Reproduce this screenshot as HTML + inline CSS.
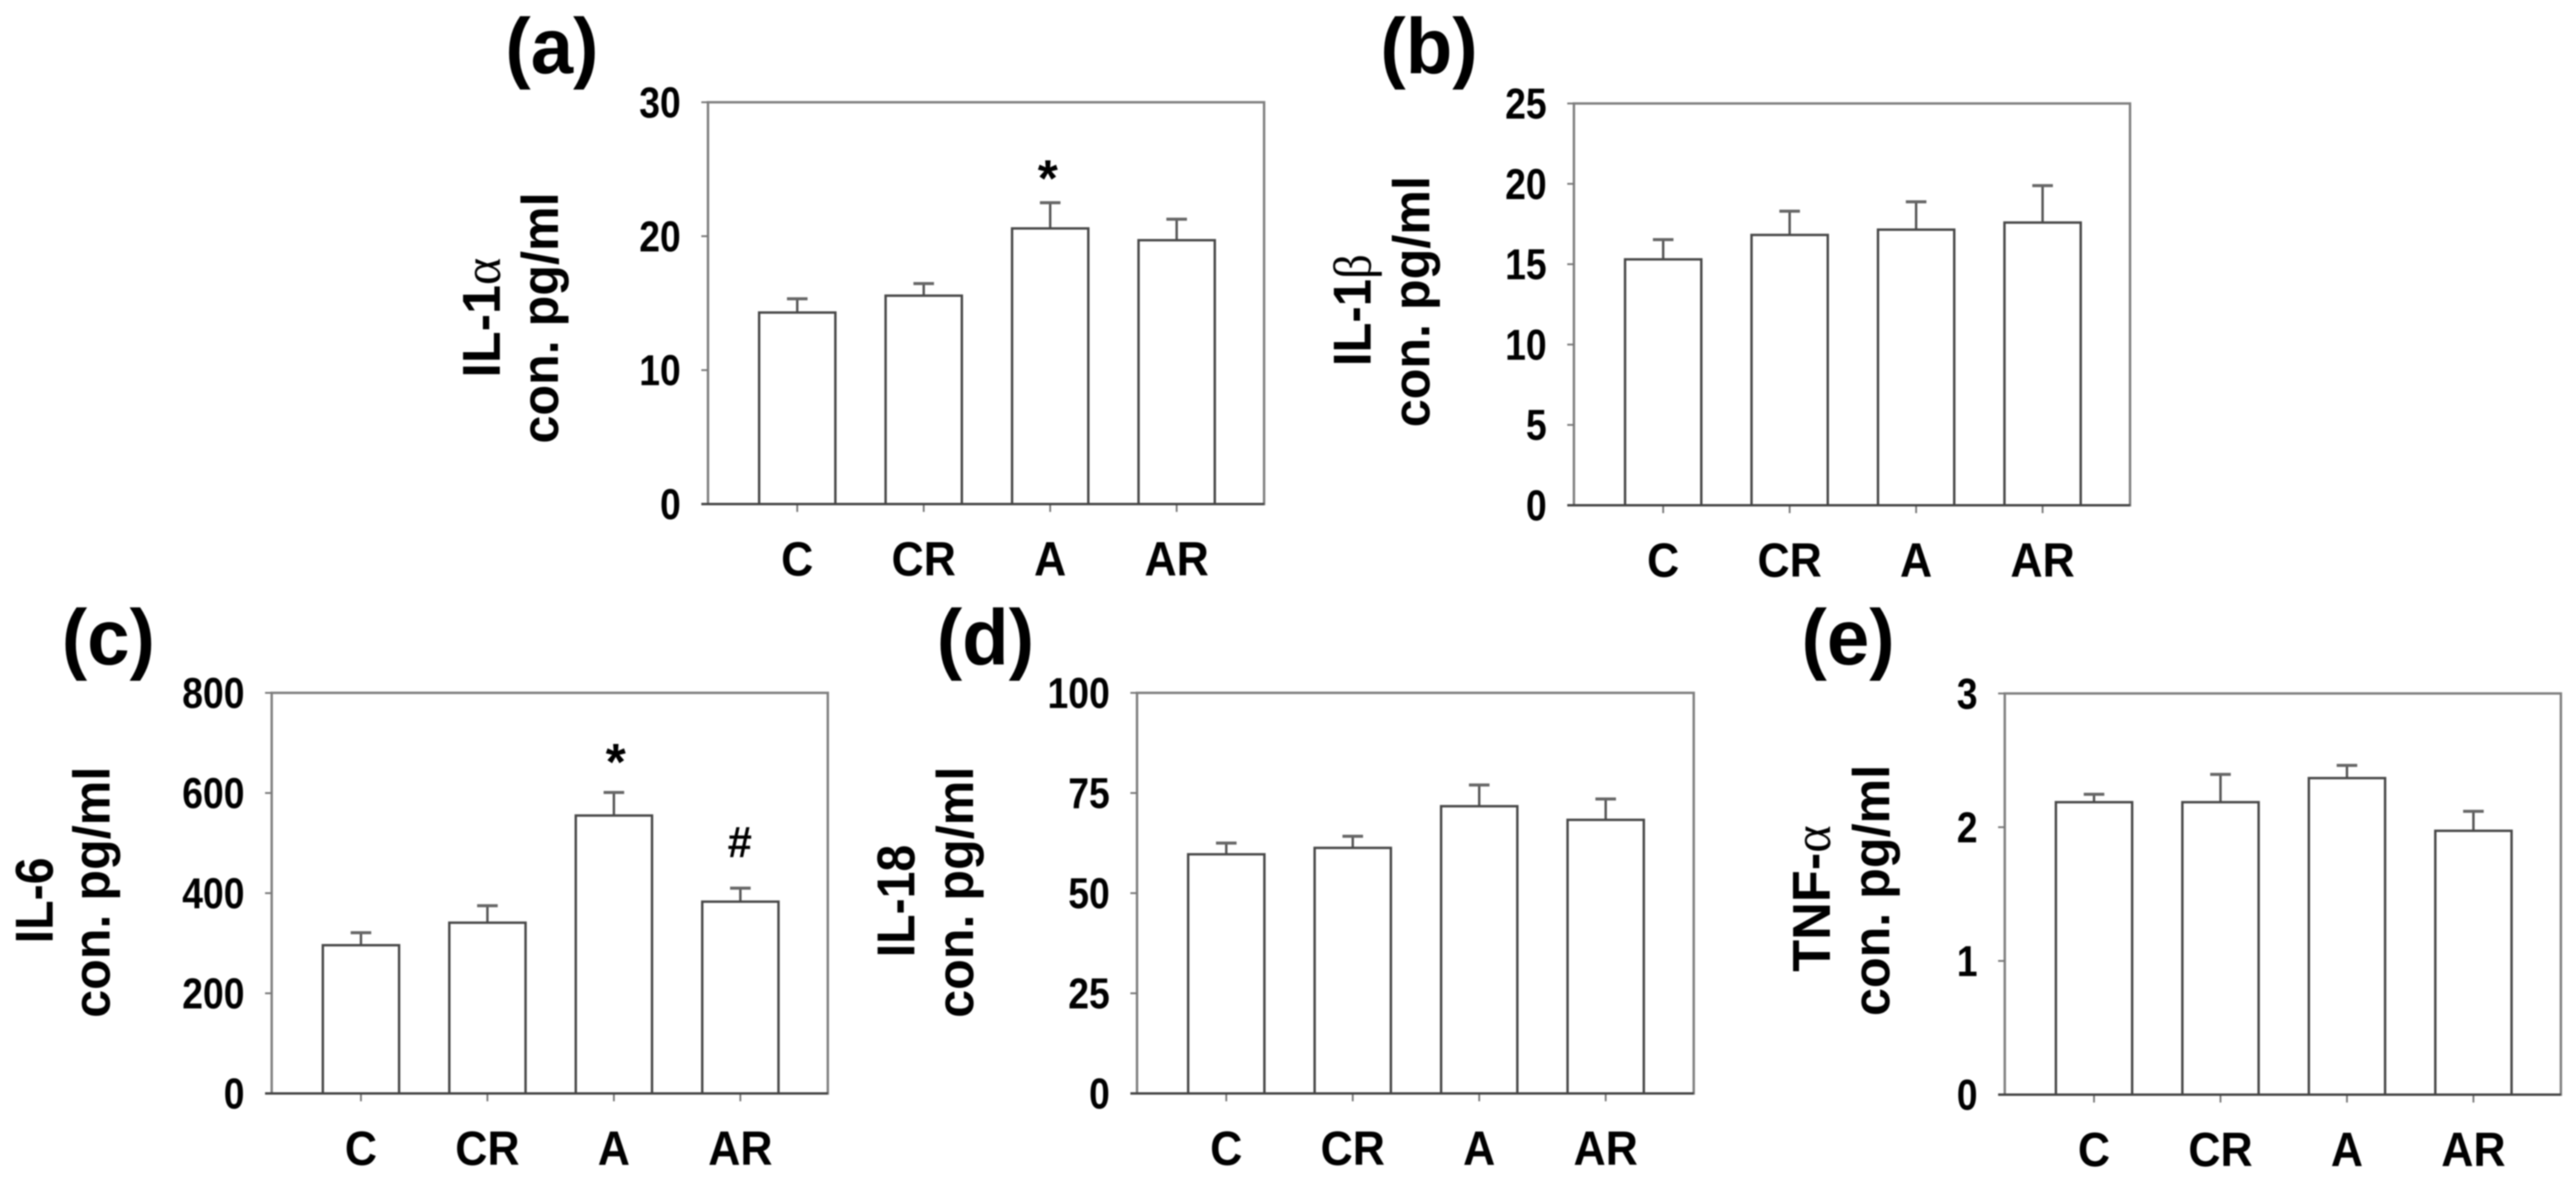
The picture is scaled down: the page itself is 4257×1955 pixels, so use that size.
<!DOCTYPE html>
<html lang="en">
<head>
<meta charset="utf-8">
<title>Cytokine concentrations</title>
<style>
html,body{margin:0;padding:0;background:#fff;}
body{width:4257px;height:1955px;overflow:hidden;}
svg{display:block;filter:blur(1px);}
text{font-family:"Liberation Sans",sans-serif;font-weight:bold;fill:#000;}
</style>
</head>
<body>
<svg id="figure" xmlns="http://www.w3.org/2000/svg" width="4257" height="1955" viewBox="0 0 4257 1955"></svg>
<script>
const categories = ["C", "CR", "A", "AR"];

const aTicks = [0, 10, 20, 30];
const aValues = [14.3, 15.56, 20.58, 19.7];
const aErrors = [1.03, 0.9, 1.92, 1.57];

const bTicks = [0, 5, 10, 15, 20, 25];
const bValues = [15.3, 16.82, 17.15, 17.59];
const bErrors = [1.23, 1.48, 1.73, 2.3];

const cTicks = [0, 200, 400, 600, 800];
const cValues = [296, 341, 555, 383];
const cErrors = [25, 34, 46, 27];

const dTicks = [0, 25, 50, 75, 100];
const dValues = [59.7, 61.3, 71.7, 68.3];
const dErrors = [2.8, 2.9, 5.3, 5.2];

const eTicks = [0, 1, 2, 3];
const eValues = [2.187, 2.187, 2.367, 1.973];
const eErrors = [0.059, 0.208, 0.095, 0.146];

const panels = [
  {id:"a", label:"(a)", lw:0.556, lx:835, ly:121, left:1170, right:2089, top:169, bottom:833, ticks:aTicks, values:aValues, errors:aErrors,
   t1:"IL-1", greek:"α", t1x:826, t1y:624, t1len:198, t2x:922, t2y:733, marks:{2:{s:"*", size:85, dx:-4, dy:-11}}},
  {id:"b", label:"(b)", lw:0.611, lx:2281, ly:121, left:2601, right:3520, top:171, bottom:835, ticks:bTicks, values:bValues, errors:bErrors,
   t1:"IL-1", greek:"β", t1x:2265, t1y:605, t1len:185, t2x:2362, t2y:706, marks:{}},
  {id:"c", label:"(c)", lw:0.556, lx:102, ly:1098, left:449, right:1368, top:1145, bottom:1807, ticks:cTicks, values:cValues, errors:cErrors,
   t1:"IL-6", greek:"", t1x:87, t1y:1559, t1len:142, t2x:181, t2y:1682, marks:{2:{s:"*", size:85, dx:3, dy:-21}, 3:{s:"#", size:72, dx:-1, dy:-51}}},
  {id:"d", label:"(d)", lw:0.611, lx:1548, ly:1098, left:1879, right:2799, top:1145, bottom:1807, ticks:dTicks, values:dValues, errors:dErrors,
   t1:"IL-18", greek:"", t1x:1511, t1y:1582, t1len:186, t2x:1608, t2y:1682, marks:{}},
  {id:"e", label:"(e)", lw:0.556, lx:2977, ly:1098, left:3313, right:4232, top:1146, bottom:1809, ticks:eTicks, values:eValues, errors:eErrors,
   t1:"TNF-", greek:"α", t1x:3024, t1y:1606, t1len:242, t2x:3122, t2y:1679, marks:{}}
];

const NS = "http://www.w3.org/2000/svg";
const fig = document.getElementById("figure");

function make(parent, tag, props) {
  const el = document.createElementNS(NS, tag);
  for (const k in props) el.setAttribute(k, props[k]);
  parent.appendChild(el);
  return el;
}

function line(parent, x1, y1, x2, y2, color, w) {
  return make(parent, "line", {x1:x1, y1:y1, x2:x2, y2:y2, stroke:color, "stroke-width":w});
}

panels.forEach(function (p) {
  const g = make(fig, "g", {});
  
  

  const domainMax = p.ticks[p.ticks.length - 1];
  const yScale = function (v) { return p.bottom - (v / domainMax) * (p.bottom - p.top); };
  const slot = 209;
  const barW = 126;
  const xScale = function (i) { return p.left + 147.5 + i * slot; };

  const label = make(g, "text", {
    x:p.lx, y:p.ly, "font-size":130,
    textLength:(0.666 + p.lw) * 130 * 0.97, lengthAdjust:"spacingAndGlyphs"
  });
  label.textContent = p.label;
  
  

  const frame = make(g, "path", {
    d:"M" + p.left + " " + p.top + "H" + p.right + "V" + p.bottom + "H" + p.left + "Z",
    fill:"#fff", stroke:"#808080", "stroke-width":4
  });
  
  

  p.ticks.forEach(function (t) {
    const y = yScale(t);
    const tick = line(g, p.left - 11, y, p.left, y, "#777", 3);
    
    
    const s = String(t);
    const txt = make(g, "text", {
      x:p.left - 45 - s.length * 34.3, y:y + 25, "font-size":71,
      textLength:s.length * 34.3, lengthAdjust:"spacingAndGlyphs"
    });
    txt.textContent = s;
    
    
  });

  p.values.forEach(function (v, i) {
    const cx = xScale(i);
    const yTop = yScale(v);
    const yErr = yScale(v + p.errors[i]);

    const stem = line(g, cx, yTop, cx, yErr, "#555", 4);
    
    
    const cap = line(g, cx - 17, yErr, cx + 17, yErr, "#666", 5);
    
    

    const bar = make(g, "rect", {
      x:cx - barW / 2, y:yTop, width:barW, height:yScale(0) - yTop,
      fill:"#fff", stroke:"#484848", "stroke-width":4
    });
    
    

    const xt = line(g, cx, p.bottom, cx, p.bottom + 13, "#777", 3);
    
    

    const cat = make(g, "text", {
      x:cx, y:p.bottom + 118, "font-size":80, "text-anchor":"middle",
      textLength:categories[i].length * 0.722 * 80 * 0.92, lengthAdjust:"spacingAndGlyphs"
    });
    cat.textContent = categories[i];
    
    

    const m = p.marks[i];
    if (m) {
      const mark = make(g, "text", {x:cx + m.dx, y:yErr + m.dy, "font-size":m.size, "text-anchor":"middle"});
      mark.textContent = m.s;
      
      
    }
  });

  const axisLine = line(g, p.left - 11, p.bottom, p.right, p.bottom, "#444", 4);
  
  

  const title1 = make(g, "text", {
    transform:"translate(" + p.t1x + " " + p.t1y + ") rotate(-90)",
    "font-size":88, textLength:p.t1len, lengthAdjust:"spacingAndGlyphs"
  });
  title1.textContent = p.t1;
  if (p.greek) {
    const gk = make(title1, "tspan", {style:'font-family:"Liberation Serif","DejaVu Serif",serif;font-weight:normal'});
    gk.textContent = p.greek;
  }
  
  

  const title2 = make(g, "text", {
    transform:"translate(" + p.t2x + " " + p.t2y + ") rotate(-90)",
    "font-size":85, textLength:415, lengthAdjust:"spacingAndGlyphs"
  });
  title2.textContent = "con. pg/ml";
  
  
});
</script>
</body>
</html>
